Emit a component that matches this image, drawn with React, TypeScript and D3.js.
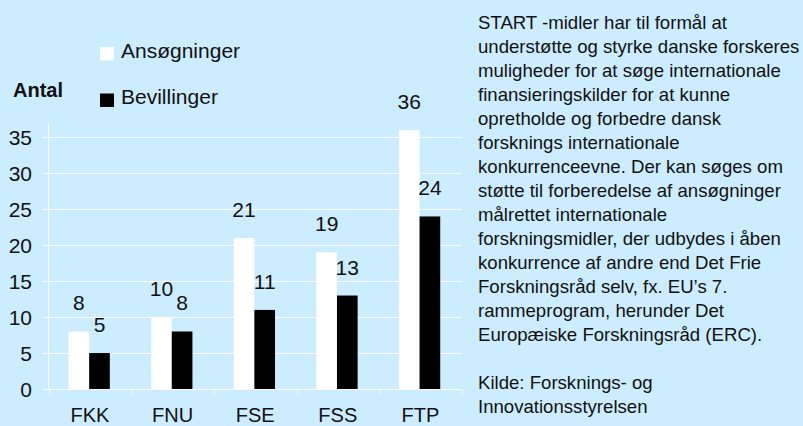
import { useEffect, useRef } from "react";
import * as d3 from "d3";

const categories = ["FKK", "FNU", "FSE", "FSS", "FTP"];
const seriesNames = ["Ansøgninger", "Bevillinger"];
const ansoegninger = [8, 10, 21, 19, 36];
const bevillinger = [5, 8, 11, 13, 24];
const yTicks = [0, 5, 10, 15, 20, 25, 30, 35];
const noteLines = [
  "START -midler har til formål at",
  "understøtte og styrke danske forskeres",
  "muligheder for at søge internationale",
  "finansieringskilder for at kunne",
  "opretholde og forbedre dansk",
  "forsknings internationale",
  "konkurrenceevne. Der kan søges om",
  "støtte til forberedelse af ansøgninger",
  "målrettet internationale",
  "forskningsmidler, der udbydes i åben",
  "konkurrence af andre end Det Frie",
  "Forskningsråd selv, fx. EU’s 7.",
  "rammeprogram, herunder Det",
  "Europæiske Forskningsråd (ERC).",
  "",
  "Kilde: Forsknings- og",
  "Innovationsstyrelsen",
];

const W = 803, H = 426;
const FONT = "'Liberation Sans', Arial, sans-serif";
const BG = "#CCECFF";
const colors = ["#FFFFFF", "#000000"];

export default function App() {
  const ref = useRef<SVGSVGElement>(null);

  useEffect(() => {
    const el = ref.current;
    if (!el) return;
    const svg = d3.select(el);
    svg.selectAll("*").remove();
    svg.append("rect").attr("width", W).attr("height", H).attr("fill", BG);

    const x0 = d3.scaleBand<string>().domain(categories).range([48.7, 461.7]);
    const step = x0.bandwidth();
    const x1 = d3.scaleBand<string>().domain(seriesNames).range([step * 0.24, step * 0.74]);
    const y = d3.scaleLinear().domain([0, 37]).range([389, 123]);

    // gridlines + y ticks
    svg.append("g").selectAll("line").data(yTicks).join("line")
      .attr("x1", 42.5).attr("x2", 461.7)
      .attr("y1", (d) => Math.round(y(d)) + 0.5).attr("y2", (d) => Math.round(y(d)) + 0.5)
      .attr("stroke", "#fff").attr("stroke-width", 1);
    svg.append("g").selectAll("text").data(yTicks).join("text")
      .attr("x", 32).attr("y", (d) => y(d) + 7.5).attr("text-anchor", "end")
      .attr("font-family", FONT).attr("font-size", 21).attr("fill", "#111").text((d) => d);

    // y axis line
    svg.append("line").attr("x1", 48.5).attr("x2", 48.5).attr("y1", 123).attr("y2", 389)
      .attr("stroke", "#fff").attr("stroke-width", 1);

    // x ticks
    const xt = categories.map((c) => x0(c) ?? 0).concat([461.7]);
    svg.append("g").selectAll("line").data(xt).join("line")
      .attr("x1", (d) => Math.round(d) + 0.5).attr("x2", (d) => Math.round(d) + 0.5)
      .attr("y1", 389).attr("y2", 395).attr("stroke", "#fff").attr("stroke-width", 1);

    // bars
    const rows = categories.map((c, i) => ({ c, vals: [ansoegninger[i], bevillinger[i]] }));
    const groups = svg.append("g").selectAll("g").data(rows).join("g")
      .attr("transform", (d) => `translate(${x0(d.c)},0)`);
    groups.selectAll("rect").data((d) => d.vals.map((v, j) => ({ v, s: seriesNames[j], j }))).join("rect")
      .attr("x", (d) => x1(d.s) ?? 0).attr("width", x1.bandwidth())
      .attr("y", (d) => y(d.v)).attr("height", (d) => y(0) - y(d.v))
      .attr("fill", (d) => colors[d.j]);
    groups.selectAll("text").data((d) => d.vals.map((v, j) => ({ v, s: seriesNames[j] }))).join("text")
      .attr("x", (d) => (x1(d.s) ?? 0) + x1.bandwidth() / 2).attr("y", (d) => y(d.v) - 21)
      .attr("text-anchor", "middle").attr("font-family", FONT).attr("font-size", 21).attr("fill", "#111")
      .text((d) => d.v);

    // category labels
    svg.append("g").selectAll("text").data(categories).join("text")
      .attr("x", (d) => (x0(d) ?? 0) + step / 2).attr("y", 422).attr("text-anchor", "middle")
      .attr("font-family", FONT).attr("font-size", 20).attr("fill", "#111").text((d) => d);

    // axis title
    svg.append("text").attr("x", 13).attr("y", 97).attr("font-family", FONT).attr("font-size", 20)
      .attr("font-weight", "bold").attr("fill", "#111").text("Antal");

    // legend
    const lg = svg.append("g").selectAll("g").data(seriesNames).join("g")
      .attr("transform", (_, i) => `translate(100,${47 + i * 46.5})`);
    lg.append("rect").attr("width", 14).attr("height", 13.5).attr("fill", (_, i) => colors[i]);
    lg.append("text").attr("x", 21).attr("y", 10.5).attr("font-family", FONT).attr("font-size", 21)
      .attr("fill", "#111").text((d) => d);

    // side note
    svg.append("g").selectAll("text").data(noteLines).join("text")
      .attr("x", 478).attr("y", (_, i) => 29 + i * 24)
      .attr("font-family", FONT).attr("font-size", 18.6).attr("fill", "#111").text((d) => d);
  }, []);

  return (
    <svg ref={ref} width={W} height={H} style={{ position: "fixed", left: 0, top: 0, display: "block" }} />
  );
}
